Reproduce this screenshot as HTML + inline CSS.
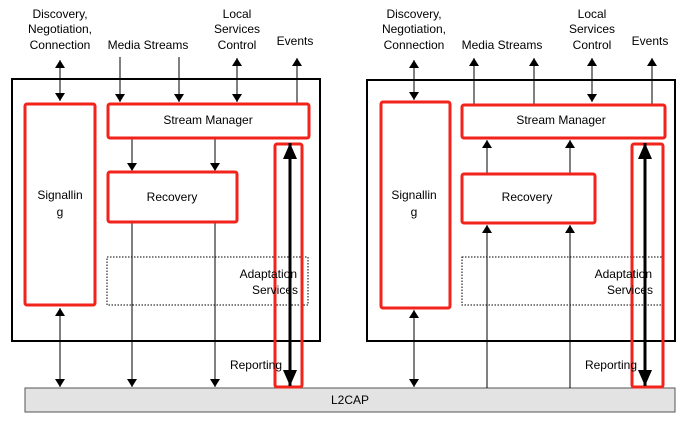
<!DOCTYPE html>
<html><head><style>body{margin:0;background:#fff}svg{display:block}text{font-family:"Liberation Sans",sans-serif;font-size:12px;fill:#000}</style></head><body>
<svg width="689" height="425" viewBox="0 0 689 425">
<defs>
<marker id="a" markerWidth="8" markerHeight="10" refX="8" refY="5" orient="auto-start-reverse" markerUnits="userSpaceOnUse"><path d="M0,0L8,5L0,10z" fill="#000"/></marker>
<marker id="b" markerWidth="16" markerHeight="14" refX="16" refY="7" orient="auto-start-reverse" markerUnits="userSpaceOnUse"><path d="M0,0L16,7L0,14z" fill="#000"/></marker>
</defs>
<rect x="25" y="388" width="650" height="24" fill="#e3e3e3" stroke="#555" stroke-width="1"/>
<text x="350" y="404" text-anchor="middle">L2CAP</text>
<g stroke="#000" stroke-width="1" fill="none">
<rect x="12" y="79" width="308" height="262" stroke-width="2"/>
<rect x="107" y="257" width="201" height="48" stroke-dasharray="1.5,1.5"/>
<line x1="60" y1="60" x2="60" y2="101" marker-start="url(#a)" marker-end="url(#a)"/>
<line x1="120" y1="57" x2="120" y2="102" marker-end="url(#a)"/>
<line x1="179" y1="57" x2="179" y2="102" marker-end="url(#a)"/>
<line x1="237" y1="58" x2="237" y2="102" marker-start="url(#a)" marker-end="url(#a)"/>
<line x1="297" y1="104" x2="297" y2="58" marker-end="url(#a)"/>
<line x1="132" y1="138" x2="132" y2="171" marker-end="url(#a)"/>
<line x1="215" y1="138" x2="215" y2="171" marker-end="url(#a)"/>
<line x1="132" y1="222" x2="132" y2="387" marker-end="url(#a)"/>
<line x1="215" y1="222" x2="215" y2="387" marker-end="url(#a)"/>
<line x1="60" y1="308" x2="60" y2="387" marker-start="url(#a)" marker-end="url(#a)"/>
<rect x="367" y="80" width="308" height="261" stroke-width="2"/>
<rect x="462" y="257" width="200" height="48" stroke-dasharray="1.5,1.5"/>
<line x1="414" y1="60" x2="414" y2="100" marker-start="url(#a)" marker-end="url(#a)"/>
<line x1="474" y1="104" x2="474" y2="58" marker-end="url(#a)"/>
<line x1="534" y1="104" x2="534" y2="58" marker-end="url(#a)"/>
<line x1="592" y1="58" x2="592" y2="102" marker-start="url(#a)" marker-end="url(#a)"/>
<line x1="652" y1="104" x2="652" y2="58" marker-end="url(#a)"/>
<line x1="487" y1="173" x2="487" y2="140" marker-end="url(#a)"/>
<line x1="570" y1="173" x2="570" y2="140" marker-end="url(#a)"/>
<line x1="487" y1="388" x2="487" y2="225" marker-end="url(#a)"/>
<line x1="570" y1="388" x2="570" y2="225" marker-end="url(#a)"/>
<line x1="414" y1="310" x2="414" y2="387" marker-start="url(#a)" marker-end="url(#a)"/>
</g>
<g fill="#fff" stroke="#f2231b" stroke-width="3">
<rect x="25" y="104" width="70" height="201" rx="2"/>
<rect x="108" y="104" width="201" height="34" rx="2"/>
<rect x="108" y="172" width="129" height="50" rx="2"/>
<rect x="381" y="102" width="69" height="206" rx="2"/>
<rect x="462" y="105" width="203" height="33" rx="2"/>
<rect x="462" y="174" width="133" height="49" rx="2"/>
</g>
<g fill="none" stroke="#f2231b" stroke-width="3">
<rect x="275" y="144" width="27" height="243" rx="2"/>
<rect x="632" y="144" width="31" height="243" rx="2"/>
</g>
<g stroke="#000" fill="none">
<line x1="290" y1="143" x2="290" y2="386" stroke-width="3" marker-start="url(#b)" marker-end="url(#b)"/>
<line x1="645" y1="143" x2="645" y2="386" stroke-width="3" marker-start="url(#b)" marker-end="url(#b)"/>
</g>
<g text-anchor="middle">
<text x="60" y="18">Discovery,</text><text x="60" y="33">Negotiation,</text><text x="60" y="49">Connection</text>
<text x="148" y="49">Media Streams</text>
<text x="237" y="18">Local</text><text x="237" y="33">Services</text><text x="237" y="49">Control</text>
<text x="295" y="45">Events</text>
<text x="208" y="124">Stream Manager</text>
<text x="172" y="201">Recovery</text>
<text x="60" y="199">Signallin</text><text x="60" y="216">g</text>
<text x="414" y="18">Discovery,</text><text x="414" y="33">Negotiation,</text><text x="414" y="49">Connection</text>
<text x="502" y="49">Media Streams</text>
<text x="592" y="18">Local</text><text x="592" y="33">Services</text><text x="592" y="49">Control</text>
<text x="650" y="45">Events</text>
<text x="561" y="124">Stream Manager</text>
<text x="527" y="201">Recovery</text>
<text x="414" y="199">Signallin</text><text x="414" y="216">g</text>
</g>
<g text-anchor="end">
<text x="297" y="278">Adaptation</text><text x="298" y="294">Services</text>
<text x="652" y="278">Adaptation</text><text x="653" y="294">Services</text>
<text x="282" y="369">Reporting</text><text x="637" y="369">Reporting</text>
</g>
</svg>
</body></html>
